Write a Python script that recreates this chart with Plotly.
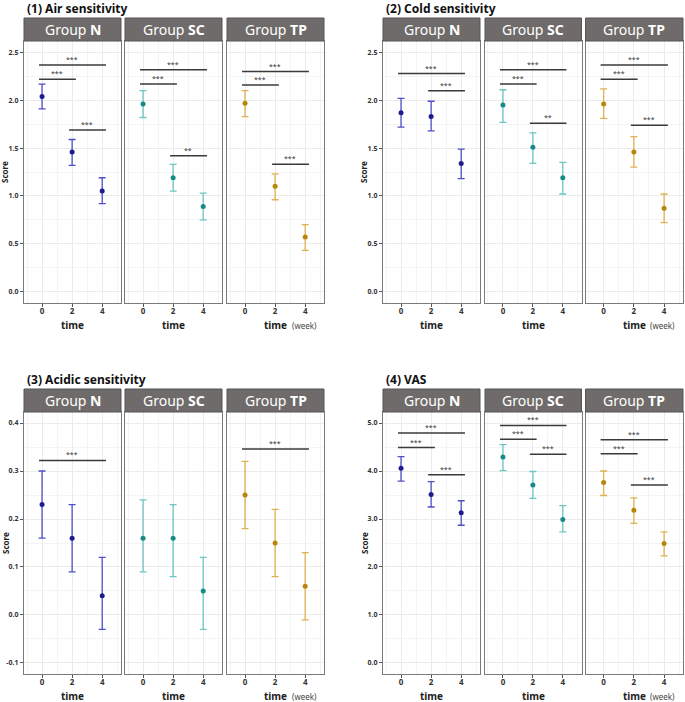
import plotly.graph_objects as go

W, H = 685, 702

TIME = [0, 2, 4]
GROUPS = ["N", "SC", "TP"]

# (1) Air sensitivity
air_mean = {"N": [2.04, 1.46, 1.05], "SC": [1.96, 1.19, 0.89], "TP": [1.97, 1.10, 0.57]}
air_hi = {"N": [2.17, 1.59, 1.19], "SC": [2.10, 1.33, 1.03], "TP": [2.10, 1.23, 0.70]}
air_lo = {"N": [1.91, 1.32, 0.92], "SC": [1.82, 1.05, 0.75], "TP": [1.83, 0.96, 0.43]}
air_sig = [("N", 0, 4, 2.37, "***"), ("N", 0, 2, 2.22, "***"), ("N", 2, 4, 1.69, "***"),
           ("SC", 0, 4, 2.32, "***"), ("SC", 0, 2, 2.17, "***"), ("SC", 2, 4, 1.42, "**"),
           ("TP", 0, 4, 2.30, "***"), ("TP", 0, 2, 2.16, "***"), ("TP", 2, 4, 1.33, "***")]

# (2) Cold sensitivity
cold_mean = {"N": [1.87, 1.83, 1.34], "SC": [1.95, 1.51, 1.19], "TP": [1.96, 1.46, 0.87]}
cold_hi = {"N": [2.02, 1.99, 1.49], "SC": [2.11, 1.66, 1.35], "TP": [2.12, 1.62, 1.02]}
cold_lo = {"N": [1.72, 1.68, 1.18], "SC": [1.77, 1.34, 1.02], "TP": [1.81, 1.30, 0.72]}
cold_sig = [("N", 0, 4, 2.28, "***"), ("N", 2, 4, 2.10, "***"),
            ("SC", 0, 4, 2.32, "***"), ("SC", 0, 2, 2.17, "***"), ("SC", 2, 4, 1.76, "**"),
            ("TP", 0, 4, 2.37, "***"), ("TP", 0, 2, 2.22, "***"), ("TP", 2, 4, 1.74, "***")]

# (3) Acidic sensitivity
acid_mean = {"N": [0.23, 0.16, 0.04], "SC": [0.16, 0.16, 0.05], "TP": [0.25, 0.15, 0.06]}
acid_hi = {"N": [0.30, 0.23, 0.12], "SC": [0.24, 0.23, 0.12], "TP": [0.32, 0.22, 0.13]}
acid_lo = {"N": [0.16, 0.09, -0.03], "SC": [0.09, 0.08, -0.03], "TP": [0.18, 0.08, -0.01]}
acid_sig = [("N", 0, 4, 0.322, "***"), ("TP", 0, 4, 0.346, "***")]

# (4) VAS
vas_mean = {"N": [4.06, 3.51, 3.13], "SC": [4.29, 3.71, 2.99], "TP": [3.76, 3.18, 2.49]}
vas_hi = {"N": [4.30, 3.78, 3.38], "SC": [4.55, 3.99, 3.28], "TP": [4.00, 3.44, 2.73]}
vas_lo = {"N": [3.79, 3.25, 2.87], "SC": [4.01, 3.43, 2.73], "TP": [3.49, 2.91, 2.23]}
vas_sig = [("N", 0, 4, 4.79, "***"), ("N", 0, 2, 4.49, "***"), ("N", 2, 4, 3.92, "***"),
           ("SC", 0, 4, 4.95, "***"), ("SC", 0, 2, 4.66, "***"), ("SC", 2, 4, 4.35, "***"),
           ("TP", 0, 4, 4.65, "***"), ("TP", 0, 2, 4.36, "***"), ("TP", 2, 4, 3.71, "***")]

panels = [
    dict(title="(1) Air sensitivity", mean=air_mean, hi=air_hi, lo=air_lo, sig=air_sig,
         yrange=[-0.12, 2.62], ticks=[0, 0.5, 1.0, 1.5, 2.0, 2.5], minor=[0.25, 0.75, 1.25, 1.75, 2.25]),
    dict(title="(2) Cold sensitivity", mean=cold_mean, hi=cold_hi, lo=cold_lo, sig=cold_sig,
         yrange=[-0.12, 2.62], ticks=[0, 0.5, 1.0, 1.5, 2.0, 2.5], minor=[0.25, 0.75, 1.25, 1.75, 2.25]),
    dict(title="(3) Acidic sensitivity", mean=acid_mean, hi=acid_hi, lo=acid_lo, sig=acid_sig,
         yrange=[-0.123, 0.423], ticks=[-0.1, 0, 0.1, 0.2, 0.3, 0.4], minor=[-0.05, 0.05, 0.15, 0.25, 0.35]),
    dict(title="(4) VAS", mean=vas_mean, hi=vas_hi, lo=vas_lo, sig=vas_sig,
         yrange=[-0.23, 5.23], ticks=[0, 1, 2, 3, 4, 5], minor=[0.5, 1.5, 2.5, 3.5, 4.5]),
]

point_col = {"N": "#1c1c8e", "SC": "#168a86", "TP": "#b8860b"}
bar_col = {"N": "#4f4fc9", "SC": "#6cc6c1", "TP": "#deb252"}

# pixel layout of facets
col_x = [[(24, 121), (125, 222), (227, 324)], [(383, 480), (485, 581.5), (585.5, 683)]]
row_y = [(41, 303), (412, 674)]
strip_h = 23
font = "Noto Sans"


def px(x):
    return x / W


def py(y):
    return 1 - y / H


fig = go.Figure()
layout = {}
shapes = []
ann = []

for p, pan in enumerate(panels):
    r, c = divmod(p, 2)
    y0, y1 = row_y[r]
    for f, g in enumerate(GROUPS):
        k = p * 3 + f + 1
        xs = "" if k == 1 else str(k)
        x0, x1 = col_x[c][f]
        xa, ya = "x" + xs, "y" + xs
        hi = [h - m for h, m in zip(pan["hi"][g], pan["mean"][g])]
        lo = [m - l for l, m in zip(pan["lo"][g], pan["mean"][g])]
        fig.add_trace(go.Scatter(
            x=TIME, y=pan["mean"][g], mode="markers", xaxis=xa, yaxis=ya,
            marker=dict(color=point_col[g], size=5),
            error_y=dict(type="data", symmetric=False, array=hi, arrayminus=lo,
                         color=bar_col[g], thickness=1.3, width=3.5),
            showlegend=False))
        for gg, a, b, yv, lab in pan["sig"]:
            if gg != g:
                continue
            fig.add_trace(go.Scatter(x=[a - 0.2, b + 0.25], y=[yv, yv], mode="lines", xaxis=xa, yaxis=ya,
                                     line=dict(color="#3a3a3a", width=1.5), showlegend=False, hoverinfo="skip"))
            ann.append(dict(x=(a + b) / 2 + 0.02, y=yv, xref=xa, yref=ya, text=lab, showarrow=False,
                            xanchor="center", yanchor="bottom", yshift=-1,
                            font=dict(size=7, color="#333", family=font)))
        layout["xaxis" + xs] = dict(
            domain=[px(x0), px(x1)], anchor=ya, range=[-1.2, 5.25],
            tickvals=TIME, ticktext=[str(t) for t in TIME], ticks="outside", ticklen=3, tickcolor="#555",
            ticklabelstandoff=-3,
            tickfont=dict(size=8, color="#333", family=font, weight="bold"),
            showgrid=True, gridcolor="#ebebeb", gridwidth=1,
            minor=dict(tickvals=[-1, 1, 3, 5], showgrid=True, gridcolor="#f4f4f4", ticklen=0),
            showline=True, mirror=True, linecolor="#7a7a7a", linewidth=1.3, zeroline=False, fixedrange=True)
        layout["yaxis" + xs] = dict(
            domain=[py(y1), py(y0)], anchor=xa, range=pan["yrange"],
            tickvals=pan["ticks"], ticktext=["{:.1f}".format(t) for t in pan["ticks"]],
            showticklabels=(f == 0), ticks="outside" if f == 0 else "", ticklen=3, tickcolor="#555",
            tickfont=dict(size=7, color="#333", family=font, weight="bold"),
            showgrid=True, gridcolor="#ebebeb", gridwidth=1,
            minor=dict(tickvals=pan["minor"], showgrid=True, gridcolor="#f4f4f4", ticklen=0),
            showline=True, mirror=True, linecolor="#7a7a7a", linewidth=1.3, zeroline=False, fixedrange=True)
        # strip header
        shapes.append(dict(type="rect", xref="paper", yref="paper", x0=px(x0), x1=px(x1),
                           y0=py(y0), y1=py(y0 - strip_h),
                           fillcolor="#6f6b6a", line=dict(color="#555", width=1), layer="above"))
        ann.append(dict(x=px((x0 + x1) / 2), y=py(y0 - strip_h / 2), xref="paper", yref="paper",
                        text="Group <b>%s</b>" % g, showarrow=False, xanchor="center", yanchor="middle",
                        font=dict(size=14, color="white", family=font)))
        # axis title
        tx = px((x0 + x1) / 2)
        ty = py(y1 + 22)
        ann.append(dict(x=tx, y=ty, xref="paper", yref="paper", text="<b>time</b>", showarrow=False,
                        xanchor="center", yanchor="middle", font=dict(size=10, color="#222", family=font)))
        if g == "TP":
            ann.append(dict(x=tx + px(14), y=ty, xref="paper", yref="paper", text="(week)", showarrow=False,
                            xanchor="left", yanchor="middle", font=dict(size=8, color="#444", family=font)))
    # panel title and y label
    lx = col_x[c][0][0]
    ann.append(dict(x=px(lx + 1), y=py(y0 - strip_h - 10), xref="paper", yref="paper",
                    text="<b>%s</b>" % pan["title"], showarrow=False, xanchor="left", yanchor="middle",
                    font=dict(size=12, color="#111", family=font)))
    ann.append(dict(x=px(lx - 19), y=py((y0 + y1) / 2), xref="paper", yref="paper",
                    text="Score", textangle=-90, showarrow=False, xanchor="center", yanchor="middle",
                    font=dict(size=8, color="#222", family=font, weight="bold")))

fig.update_layout(
    width=W, height=H, margin=dict(l=0, r=0, t=0, b=0),
    plot_bgcolor="white", paper_bgcolor="white",
    shapes=shapes, annotations=ann, showlegend=False,
    **layout)

fig.write_html("out.html", config={"displayModeBar": False},
               post_script="document.body.style.margin='0';")
